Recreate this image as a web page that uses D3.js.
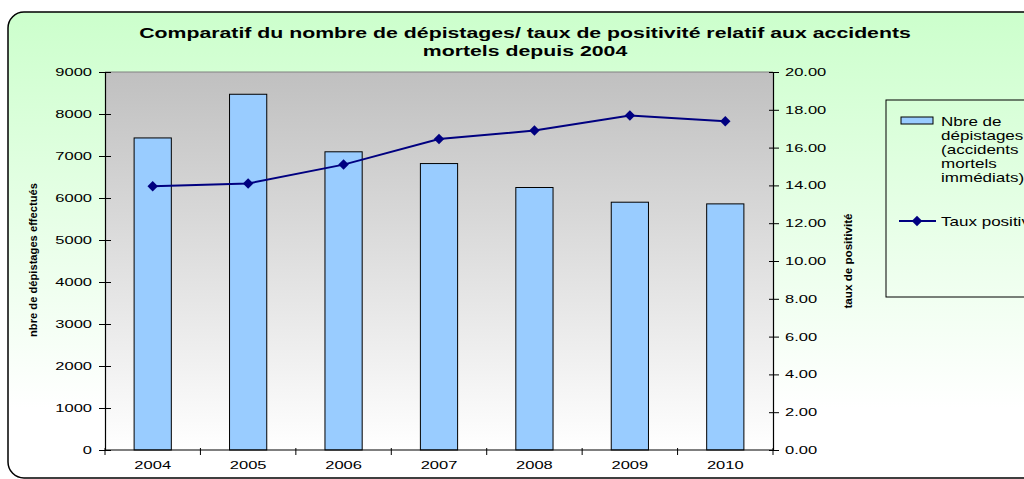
<!DOCTYPE html>
<html><head><meta charset="utf-8">
<script src="https://cdn.jsdelivr.net/npm/d3@7"></script>
<style>body{margin:0;overflow:hidden;background:#fff}svg{display:block;font-family:Arial,"Liberation Sans",sans-serif}</style>
</head><body>
<script>
const years = ["2004","2005","2006","2007","2008","2009","2010"];
const depistages = [7430, 8470, 7100, 6820, 6250, 5900, 5860];
const taux = [13.95, 14.1, 15.1, 16.45, 16.9, 17.7, 17.4];
const leftTicks = [0,1000,2000,3000,4000,5000,6000,7000,8000,9000];
const rightTicks = [0,2,4,6,8,10,12,14,16,18,20];
const titleLines = ["Comparatif du nombre de dépistages/ taux de positivité relatif aux accidents","mortels depuis 2004"];
const legendBar = ["Nbre de","dépistages","(accidents","mortels","immédiats)"];
const legendLine = "Taux positivité";

const W=1024,H=479,SX=1.5;
const svg=d3.select("body").append("svg").attr("width",W).attr("height",H);
const defs=svg.append("defs");
const g1=defs.append("linearGradient").attr("id","bg").attr("x1",0).attr("y1",0).attr("x2",0).attr("y2",1);
g1.append("stop").attr("offset","0%").attr("stop-color","#ccffcc");
g1.append("stop").attr("offset","85%").attr("stop-color","#ffffff");
const g2=defs.append("linearGradient").attr("id","pa").attr("x1",0).attr("y1",0).attr("x2",0).attr("y2",1);
g2.append("stop").attr("offset","0%").attr("stop-color","#c0c0c0");
g2.append("stop").attr("offset","100%").attr("stop-color","#ffffff");

svg.append("rect").attr("x",8).attr("y",12).attr("width",1060).attr("height",466).attr("rx",16)
  .attr("fill","url(#bg)").attr("stroke","#000").attr("stroke-width",1.5);

const L=105,R=773,T=72,B=450;
const x=d3.scaleBand().domain(years).range([L,R]).paddingInner(0.61).paddingOuter(0.305);
const xb=d3.scaleBand().domain(years).range([L,R]);
const yL=d3.scaleLinear().domain([0,9000]).range([B,T]);
const yR=d3.scaleLinear().domain([0,20]).range([B,T]);

svg.append("rect").attr("x",L).attr("y",T).attr("width",R-L).attr("height",B-T).attr("fill","url(#pa)");
svg.append("line").attr("x1",L).attr("x2",R).attr("y1",T).attr("y2",T).attr("stroke","#808080");

function stretched(sel,x0,y0,s){ return sel.attr("transform",`translate(${x0},${y0}) scale(${s||SX},1)`); }

// title
svg.append("g").selectAll("text").data(titleLines).join("text")
  .each(function(d,i){ stretched(d3.select(this),525,38+i*18,1.52); })
  .attr("text-anchor","middle").attr("font-size","14px").attr("font-weight","bold").text(d=>d);

// bars
svg.append("g").selectAll("rect").data(depistages).join("rect")
  .attr("x",(d,i)=>x(years[i])).attr("width",x.bandwidth())
  .attr("y",d=>yL(d)).attr("height",d=>B-yL(d))
  .attr("fill","#99ccff").attr("stroke","#000").attr("stroke-width",1);

// line
const line=d3.line().x((d,i)=>xb(years[i])+xb.bandwidth()/2).y(d=>yR(d));
svg.append("path").datum(taux).attr("d",line).attr("fill","none").attr("stroke","#000080").attr("stroke-width",2);
const diamond=d3.symbol().type(d3.symbolDiamond2).size(70);
svg.append("g").selectAll("path").data(taux).join("path")
  .attr("transform",(d,i)=>`translate(${xb(years[i])+xb.bandwidth()/2},${yR(d)})`)
  .attr("d",diamond).attr("fill","#000080");

// axes
const axL=svg.append("g").attr("transform",`translate(${L},0)`)
  .call(d3.axisLeft(yL).tickValues(leftTicks).tickFormat(d3.format("d")).tickSize(6).tickPadding(7));
axL.selectAll(".tick line").attr("x2",-6).attr("x1",6);
const axR=svg.append("g").attr("transform",`translate(${R},0)`)
  .call(d3.axisRight(yR).tickValues(rightTicks).tickFormat(d3.format(".2f")).tickSize(6).tickPadding(6));
axR.selectAll(".tick line").attr("x1",-4).attr("x2",6);
const axB=svg.append("g").attr("transform",`translate(0,${B})`)
  .call(d3.axisBottom(xb).tickSize(0).tickPadding(11));
[axL,axR,axB].forEach(a=>{a.select(".domain").attr("stroke","#000").attr("stroke-width",1.2);
  a.selectAll("text").attr("font-size","11px").attr("fill","#000").attr("font-family","Arial,'Liberation Sans',sans-serif")
   .attr("transform",`scale(${SX},1)`);
  a.selectAll(".tick line").attr("stroke","#000");});
axL.selectAll("text").attr("x",-13/SX);
axR.selectAll("text").attr("x",12/SX);
axB.select(".domain").attr("d",`M${L},0H${R}`);
// category boundary ticks
svg.append("g").selectAll("line").data(years.concat(["end"])).join("line")
  .attr("x1",(d,i)=>L+i*xb.bandwidth()).attr("x2",(d,i)=>L+i*xb.bandwidth())
  .attr("y1",B-2).attr("y2",B+5).attr("stroke","#000");

// axis titles
svg.append("text").attr("transform","translate(37,260) rotate(-90)").attr("text-anchor","middle")
  .attr("font-size","10.5px").attr("font-weight","bold").attr("textLength",154).attr("lengthAdjust","spacingAndGlyphs")
  .text("nbre de dépistages effectués");
svg.append("text").attr("transform","translate(852,261) rotate(-90)").attr("text-anchor","middle")
  .attr("font-size","10.5px").attr("font-weight","bold").attr("textLength",95).attr("lengthAdjust","spacingAndGlyphs")
  .text("taux de positivité");

// legend
svg.append("rect").attr("x",886).attr("y",100).attr("width",200).attr("height",197)
  .attr("fill","none").attr("stroke","#000").attr("stroke-width",1);
svg.append("rect").attr("x",901).attr("y",117).attr("width",32).attr("height",7)
  .attr("fill","#99ccff").attr("stroke","#000").attr("stroke-width",1);
svg.append("g").selectAll("text").data(legendBar).join("text")
  .each(function(d,i){ stretched(d3.select(this),941,126+i*14,1.42); })
  .attr("font-size","12px").text(d=>d);
svg.append("line").attr("x1",899).attr("x2",936).attr("y1",221).attr("y2",221).attr("stroke","#000080").attr("stroke-width",2);
svg.append("path").attr("transform","translate(917,221)").attr("d",diamond).attr("fill","#000080");
stretched(svg.append("text"),941,225.5,1.42).attr("font-size","12px").text(legendLine);
</script>
</body></html>
